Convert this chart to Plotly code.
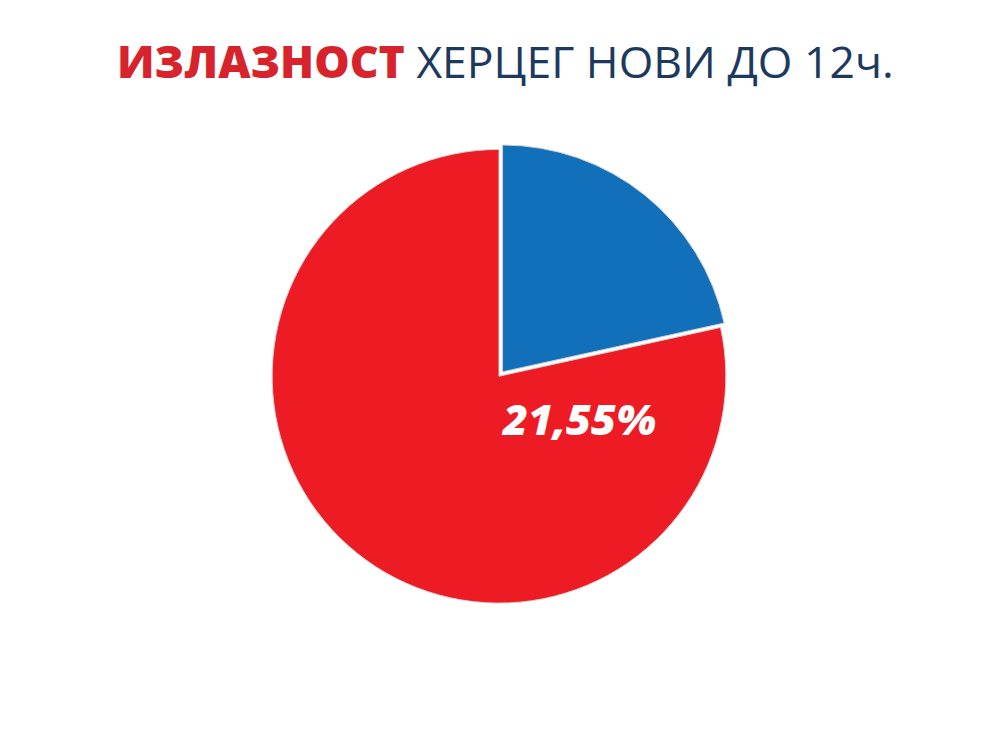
import plotly.graph_objects as go

# ── Data ────────────────────────────────────────────────────────────────
LABELS = ["Изашло", "Није изашло"]
VALUES = [21.55, 78.45]
COLORS = ["#1170B9", "#ED1C24"]
PULLS = [0.025, 0]

TITLE_RED = "ИЗЛАЗНОСТ"
TITLE_REST = "ХЕРЦЕГ НОВИ ДО 12ч."

turnout_text = f"{VALUES[0]:.2f}%".replace(".", ",")

fig = go.Figure(go.Pie(
    labels=LABELS,
    values=VALUES,
    marker=dict(colors=COLORS, line=dict(color="#D0D0D0", width=1)),
    pull=PULLS,
    sort=False,
    direction="clockwise",
    rotation=0,
    textinfo="none",
    hoverinfo="label+percent",
    domain=dict(x=[0.258, 0.724], y=[0.199, 0.819]),
    showlegend=False,
))

fig.add_annotation(
    x=0.5705, y=1 - 410 / 750, xref="paper", yref="paper",
    text=f"<span style='font-weight:800'><i>{turnout_text}</i></span>",
    showarrow=False,
    font=dict(family="Open Sans, sans-serif", size=43, color="white"),
)

fig.add_annotation(
    x=0.497, y=1 - 20 / 750, xref="paper", yref="paper",
    text=(f"<span style='font-weight:800;color:#D7232B'>{TITLE_RED}</span> "
          f"<span style='color:#1D3A5E'>{TITLE_REST}</span>"),
    showarrow=False,
    font=dict(family="Open Sans, sans-serif", size=44.5, color="#1D3A5E"),
)

fig.update_layout(
    width=1000,
    height=750,
    paper_bgcolor="white",
    plot_bgcolor="white",
    margin=dict(l=0, r=0, t=0, b=0),
)

fig.write_html("out.html")
